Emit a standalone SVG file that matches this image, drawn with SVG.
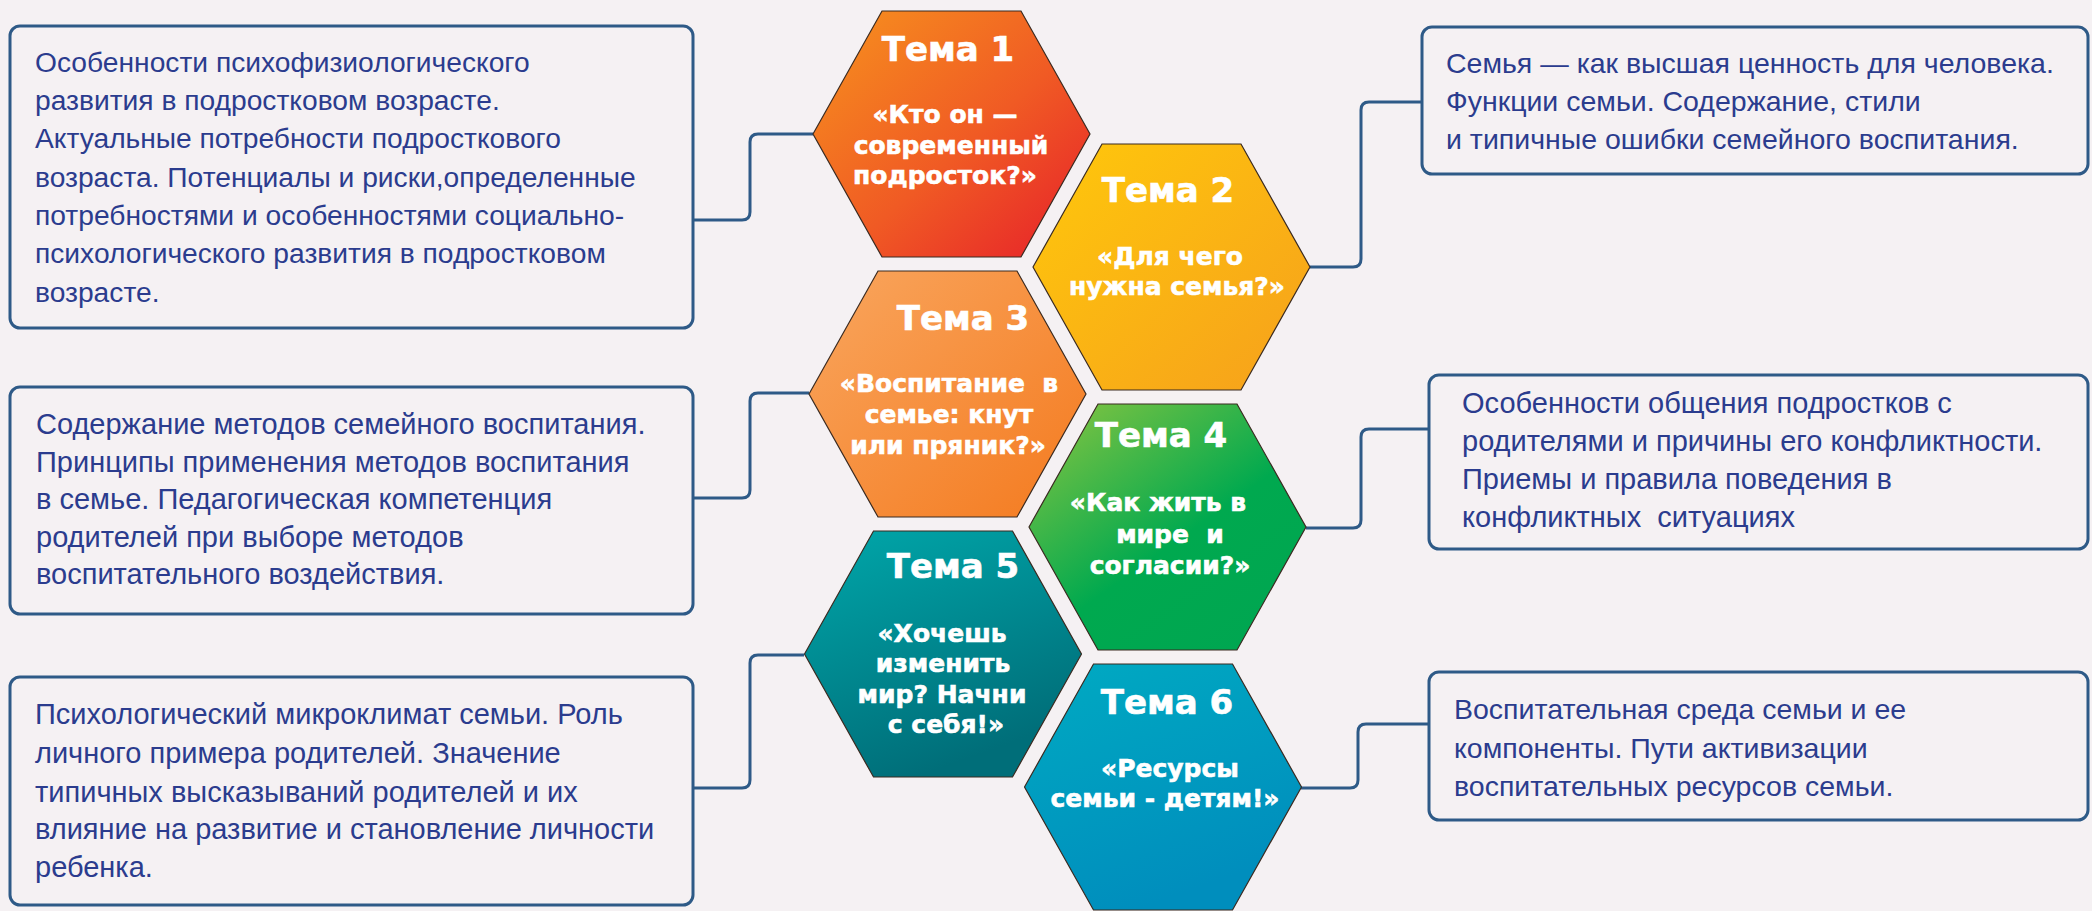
<svg xmlns="http://www.w3.org/2000/svg" width="2092" height="911" viewBox="0 0 2092 911">
<defs>
<style>
.bg{fill:#F5F1F3}
.box{fill:#F5F1F3;stroke:#2E5A87;stroke-width:3}
.con{fill:none;stroke:#2E5A87;stroke-width:3}
.bt{font-family:"Liberation Sans",Arial,sans-serif;font-size:28.5px;fill:#2B3C8E;white-space:pre}
.ht{font-family:"DejaVu Sans","Liberation Sans",sans-serif;font-weight:bold;fill:#FFFFFF;stroke:#FFFFFF;stroke-width:0.6;text-anchor:middle;white-space:pre}
.t{font-size:34px}
.s{font-size:25px}
.hx{stroke:#3A2A20;stroke-width:1.2}
</style>
<polygon id="hex" points="-138.5,0 -69.5,-123 69.5,-123 138.5,0 69.5,123 -69.5,123"/>
<linearGradient id="g1" x1="0" y1="0" x2="1" y2="1"><stop offset="0" stop-color="#F7931E"/><stop offset="0.55" stop-color="#F05A24"/><stop offset="1" stop-color="#E61E2A"/></linearGradient>
<linearGradient id="g2" x1="0" y1="0" x2="1" y2="1"><stop offset="0" stop-color="#FFC80B"/><stop offset="1" stop-color="#F6A01C"/></linearGradient>
<linearGradient id="g3" x1="0" y1="0" x2="1" y2="1"><stop offset="0" stop-color="#F9A65E"/><stop offset="1" stop-color="#F47A1F"/></linearGradient>
<linearGradient id="g4" x1="0" y1="0" x2="0.8" y2="1"><stop offset="0" stop-color="#8DC640"/><stop offset="0.6" stop-color="#00A94F"/><stop offset="1" stop-color="#00A651"/></linearGradient>
<linearGradient id="g5" x1="0" y1="0" x2="0.4" y2="1"><stop offset="0" stop-color="#00A7AA"/><stop offset="1" stop-color="#006E79"/></linearGradient>
<linearGradient id="g6" x1="0" y1="0" x2="0.4" y2="1"><stop offset="0" stop-color="#00AAC2"/><stop offset="1" stop-color="#008EBD"/></linearGradient>
</defs>
<rect class="bg" x="0" y="0" width="2092" height="911"/>

<g id="connectors">
<path class="con" d="M693,220 H742 Q750,220 750,212 V142 Q750,134 758,134 H813"/>
<path class="con" d="M693,498 H742 Q750,498 750,490 V401 Q750,393 758,393 H809"/>
<path class="con" d="M693,788 H742 Q750,788 750,780 V663 Q750,655 758,655 H804"/>
<path class="con" d="M1310,267 H1353 Q1361,267 1361,259 V110 Q1361,102 1369,102 H1422"/>
<path class="con" d="M1306,528 H1353 Q1361,528 1361,520 V437 Q1361,429 1369,429 H1429"/>
<path class="con" d="M1301,788 H1350 Q1358,788 1358,780 V732 Q1358,724 1366,724 H1429"/>
</g>

<g id="box1">
<rect class="box" x="10" y="26" width="683" height="302" rx="10"/>
<text class="bt" style="font-size:28.2px" x="35" y="72">Особенности психофизиологического</text>
<text class="bt" style="font-size:28.2px" x="35" y="110">развития в подростковом возрасте.</text>
<text class="bt" style="font-size:28.2px" x="35" y="148">Актуальные потребности подросткового</text>
<text class="bt" style="font-size:28.2px" x="35" y="187">возраста. Потенциалы и риски,определенные</text>
<text class="bt" style="font-size:28.2px" x="35" y="225">потребностями и особенностями социально-</text>
<text class="bt" style="font-size:28.2px" x="35" y="263">психологического развития в подростковом</text>
<text class="bt" style="font-size:28.2px" x="35" y="302">возрасте.</text>
</g>

<g id="box2">
<rect class="box" x="1422" y="27" width="666" height="147" rx="10"/>
<text class="bt" x="1446" y="73">Семья — как высшая ценность для человека.</text>
<text class="bt" x="1446" y="111">Функции семьи. Содержание, стили</text>
<text class="bt" x="1446" y="149">и типичные ошибки семейного воспитания.</text>
</g>

<g id="box3">
<rect class="box" x="10" y="387" width="683" height="227" rx="10"/>
<text class="bt" style="font-size:29px" x="36" y="434">Содержание методов семейного воспитания.</text>
<text class="bt" style="font-size:29px" x="36" y="472">Принципы применения методов воспитания</text>
<text class="bt" style="font-size:29px" x="36" y="509">в семье. Педагогическая компетенция</text>
<text class="bt" style="font-size:29px" x="36" y="547">родителей при выборе методов</text>
<text class="bt" style="font-size:29px" x="36" y="584">воспитательного воздействия.</text>
</g>

<g id="box4">
<rect class="box" x="1429" y="375" width="659" height="174" rx="10"/>
<text class="bt" style="font-size:29px" x="1462" y="413">Особенности общения подростков с</text>
<text class="bt" style="font-size:29px" x="1462" y="451">родителями и причины его конфликтности.</text>
<text class="bt" style="font-size:29px" x="1462" y="489">Приемы и правила поведения в</text>
<text class="bt" style="font-size:29px" x="1462" y="527">конфликтных  ситуациях</text>
</g>

<g id="box5">
<rect class="box" x="10" y="677" width="683" height="228" rx="10"/>
<text class="bt" style="font-size:29px" x="35" y="724">Психологический микроклимат семьи. Роль</text>
<text class="bt" style="font-size:29px" x="35" y="763">личного примера родителей. Значение</text>
<text class="bt" style="font-size:29px" x="35" y="802">типичных высказываний родителей и их</text>
<text class="bt" style="font-size:29px" x="35" y="839">влияние на развитие и становление личности</text>
<text class="bt" style="font-size:29px" x="35" y="877">ребенка.</text>
</g>

<g id="box6">
<rect class="box" x="1429" y="672" width="659" height="148" rx="10"/>
<text class="bt" x="1454" y="719">Воспитательная среда семьи и ее</text>
<text class="bt" x="1454" y="758">компоненты. Пути активизации</text>
<text class="bt" x="1454" y="796">воспитательных ресурсов семьи.</text>
</g>

<g id="hex1">
<use href="#hex" class="hx" x="951.5" y="134" fill="url(#g1)"/>
<text class="ht t" x="948" y="61">Тема 1</text>
<text class="ht s" x="945" y="123">«Кто он —</text>
<text class="ht s" x="951" y="154">современный</text>
<text class="ht s" x="945" y="184">подросток?»</text>
</g>

<g id="hex2">
<use href="#hex" class="hx" x="1171.5" y="267" fill="url(#g2)"/>
<text class="ht t" x="1168" y="202">Тема 2</text>
<text class="ht s" x="1170" y="265">«Для чего</text>
<text class="ht s" x="1177" y="295">нужна семья?»</text>
</g>

<g id="hex3">
<use href="#hex" class="hx" x="947.5" y="394" fill="url(#g3)"/>
<text class="ht t" x="963" y="330">Тема 3</text>
<text class="ht s" x="949" y="392">«Воспитание  в</text>
<text class="ht s" x="949" y="423">семье: кнут</text>
<text class="ht s" x="948" y="454">или пряник?»</text>
</g>

<g id="hex4">
<use href="#hex" class="hx" x="1167.5" y="527" fill="url(#g4)"/>
<text class="ht t" x="1161" y="447">Тема 4</text>
<text class="ht s" x="1158" y="511">«Как жить в</text>
<text class="ht s" x="1170" y="543">мире  и</text>
<text class="ht s" x="1170" y="574">согласии?»</text>
</g>

<g id="hex5">
<use href="#hex" class="hx" x="943" y="654" fill="url(#g5)"/>
<text class="ht t" x="953" y="578">Тема 5</text>
<text class="ht s" x="942" y="642">«Хочешь</text>
<text class="ht s" x="943" y="672">изменить</text>
<text class="ht s" x="942" y="703">мир? Начни</text>
<text class="ht s" x="946" y="733">с себя!»</text>
</g>

<g id="hex6">
<use href="#hex" class="hx" x="1163" y="787" fill="url(#g6)"/>
<text class="ht t" x="1167" y="714">Тема 6</text>
<text class="ht s" x="1170" y="777">«Ресурсы</text>
<text class="ht s" x="1165" y="807">семьи - детям!»</text>
</g>
</svg>
